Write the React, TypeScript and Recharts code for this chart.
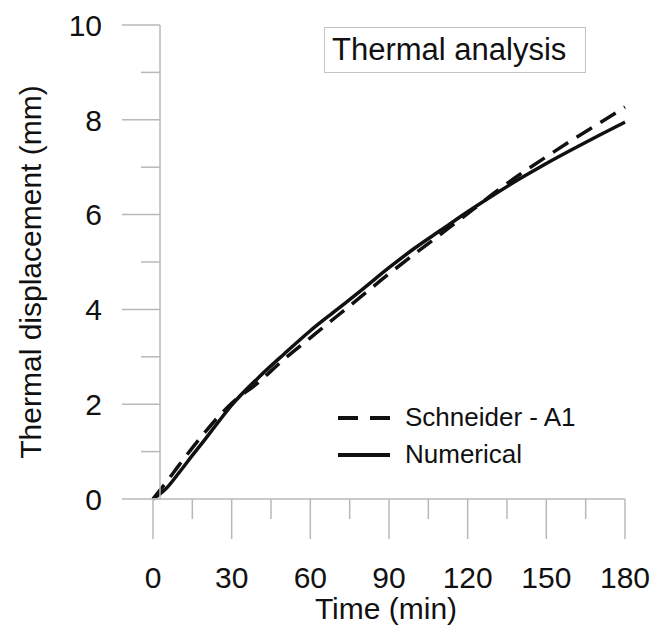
import React from 'react';
import { LineChart, Line, XAxis, YAxis, Label } from 'recharts';

// time (min)
const time = [0, 5, 10, 15, 20, 25, 30, 40, 50, 60, 70, 80, 90, 100, 110, 120, 130, 140, 150, 160, 170, 180];
// Schneider - A1 (dashed)
const schneider = [0, 0.35, 0.72, 1.08, 1.42, 1.74, 2.02, 2.45, 2.95, 3.4, 3.85, 4.3, 4.75, 5.18, 5.6, 6.02, 6.45, 6.85, 7.22, 7.58, 7.92, 8.27];
// Numerical (solid)
const numerical = [0, 0.22, 0.56, 0.92, 1.27, 1.63, 1.98, 2.55, 3.06, 3.55, 3.99, 4.43, 4.88, 5.3, 5.68, 6.06, 6.42, 6.76, 7.08, 7.38, 7.67, 7.95];

const xTicks = [0, 15, 30, 45, 60, 75, 90, 105, 120, 135, 150, 165, 180];
const yTicks = [0, 1, 2, 3, 4, 5, 6, 7, 8, 9, 10];

const seriesNames = ['Schneider - A1', 'Numerical'];
const seriesDash = ['18 10', undefined];

const data = time.map((t, i) => ({ t, schneider: schneider[i], numerical: numerical[i] }));

const FONT = '"Liberation Sans", Arial, sans-serif';
const AXIS = '#b8b8b8';
const INK = '#111';
const Y_SHIFT = 7; // y axis line sits a little right of x=0 in the original

const YTick = (props: any) => {
  const { x, y, payload } = props;
  const major = payload.value % 2 === 0;
  const ax = x + Y_SHIFT;
  return (
    <g>
      <line x1={ax - (major ? 38 : 19)} x2={ax} y1={y} y2={y} stroke={AXIS} strokeWidth={1.5} />
      {major && (
        <text x={ax - 58} y={y} dy="0.36em" textAnchor="end" fontSize={30} fontFamily={FONT} fill={INK}>
          {payload.value}
        </text>
      )}
    </g>
  );
};

const XTick = (props: any) => {
  const { x, y, payload } = props;
  const major = payload.value % 30 === 0;
  return (
    <g>
      <line x1={x} x2={x} y1={y} y2={y + (major ? 40 : 20)} stroke={AXIS} strokeWidth={1.5} />
      {major && (
        <text x={x} y={y + 89} textAnchor="middle" fontSize={30} fontFamily={FONT} fill={INK}>
          {payload.value}
        </text>
      )}
    </g>
  );
};

const LegendBlock = () => (
  <div style={{ position: 'absolute', left: 337, top: 399, fontFamily: FONT, fontSize: 26, color: INK }}>
    {seriesNames.map((name, i) => (
      <div key={name} style={{ display: 'flex', alignItems: 'center', height: 37 }}>
        <svg width={54} height={10} style={{ marginRight: 14 }}>
          <line x1={1} x2={53} y1={5} y2={5} stroke={INK} strokeWidth={4} strokeDasharray={seriesDash[i] ? '20 12' : undefined} />
        </svg>
        <span>{name}</span>
      </div>
    ))}
  </div>
);

export default function App() {
  return (
    <div style={{ position: 'relative', width: 654, height: 626, background: '#fff', overflow: 'hidden' }}>
      <style>{'body{margin:0}'}</style>
      <LineChart width={654} height={626} data={data} margin={{ top: 25, right: 29, bottom: 0, left: 0 }}>
        <XAxis
          dataKey="t"
          type="number"
          domain={[0, 180]}
          ticks={xTicks}
          interval={0}
          height={127}
          tickSize={0}
          tickMargin={0}
          tickLine={false}
          axisLine={{ stroke: AXIS, strokeWidth: 1.5 }}
          tick={<XTick />}
        >
          <Label
            content={(p: any) => (
              <text x={p.viewBox.x + p.viewBox.width / 2 - 3} y={619} textAnchor="middle" fontSize={30} fontFamily={FONT} fill={INK}>
                Time (min)
              </text>
            )}
          />
        </XAxis>
        <YAxis
          type="number"
          domain={[0, 10]}
          ticks={yTicks}
          interval={0}
          width={153}
          tickSize={0}
          tickMargin={0}
          tickLine={false}
          axisLine={{ stroke: AXIS, strokeWidth: 1.5, transform: `translate(${Y_SHIFT},0)` }}
          tick={<YTick />}
        >
          <Label
            content={(p: any) => {
              const cy = p.viewBox.y + p.viewBox.height / 2 + 10;
              return (
                <text x={30} y={cy} transform={`rotate(-90, 30, ${cy})`} dy="0.35em" textAnchor="middle" fontSize={30} fontFamily={FONT} fill={INK}>
                  Thermal displacement (mm)
                </text>
              );
            }}
          />
        </YAxis>
        <Line
          name={seriesNames[0]}
          dataKey="schneider"
          type="monotone"
          stroke={INK}
          strokeWidth={3.5}
          strokeDasharray={seriesDash[0]}
          dot={false}
          isAnimationActive={false}
        />
        <Line
          name={seriesNames[1]}
          dataKey="numerical"
          type="monotone"
          stroke={INK}
          strokeWidth={3.5}
          dot={false}
          isAnimationActive={false}
        />
      </LineChart>
      <LegendBlock />
      <div
        style={{
          position: 'absolute',
          left: 324,
          top: 27,
          width: 262,
          height: 46,
          boxSizing: 'border-box',
          border: '1.5px solid #c4c4c4',
          fontFamily: FONT,
          fontSize: 31,
          lineHeight: '44px',
          paddingLeft: 7,
          color: INK,
          background: '#fff',
        }}
      >
        Thermal analysis
      </div>
    </div>
  );
}
